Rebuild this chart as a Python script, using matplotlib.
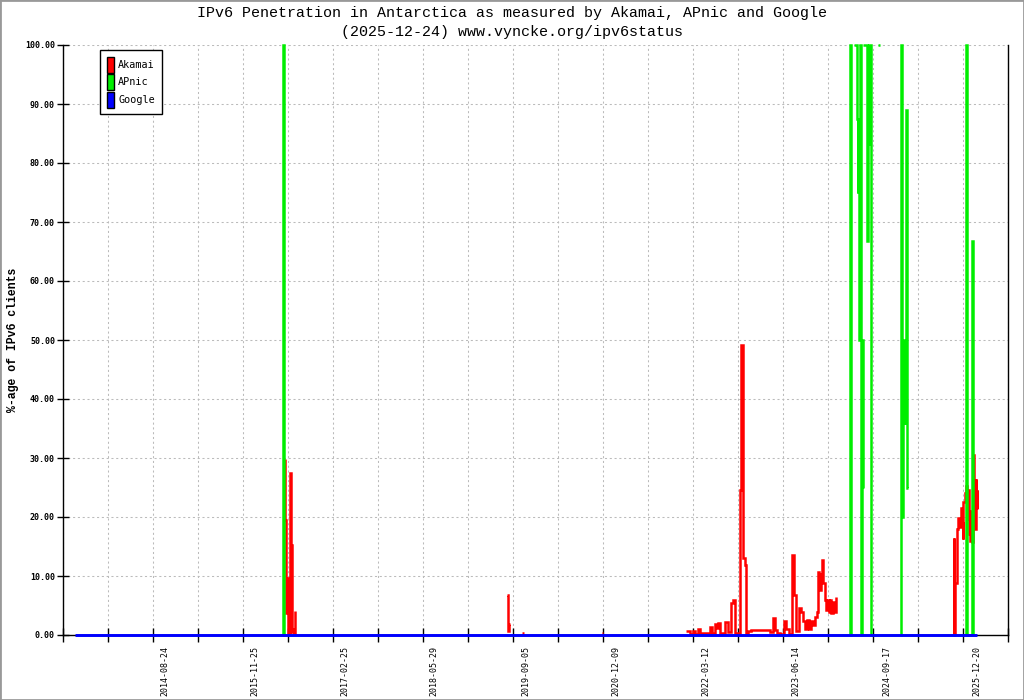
import numpy as np
import pandas as pd
import matplotlib
matplotlib.use('Agg')
import matplotlib.pyplot as plt
import matplotlib.dates as mdates
from matplotlib.patches import Patch, Rectangle

# Akamai (red), segments split by nan where there is no data
akamai_dates = [
    '2016-04-26', '2016-04-28', '2016-05-02', '2016-05-05', '2016-05-08', '2016-05-13',
    '2016-05-18', '2016-05-24', '2016-05-27', '2016-05-30', '2016-06-02', '2016-06-08',
    '2016-06-13', '2016-06-18', '2016-06-20',
    '2019-06-03', '2019-06-07', '2019-06-10', '2019-06-13', '2019-06-17', '2019-06-19',
    '2019-08-18', '2019-08-24', '2019-08-26',
    '2020-09-29', '2020-10-04', '2020-10-06',
    '2021-12-01', '2021-12-11', '2021-12-21', '2022-01-06', '2022-01-16', '2022-01-31',
    '2022-02-10', '2022-03-08', '2022-04-02', '2022-04-12', '2022-04-25', '2022-05-03',
    '2022-05-10', '2022-05-23', '2022-06-18', '2022-07-03', '2022-07-18', '2022-07-28',
    '2022-08-08', '2022-08-23', '2022-08-31', '2022-09-07', '2022-09-17', '2022-09-26',
    '2022-10-03', '2022-10-13', '2022-10-28', '2022-12-13', '2023-01-23', '2023-02-02',
    '2023-02-17', '2023-02-27', '2023-03-10', '2023-03-25', '2023-04-14', '2023-04-24',
    '2023-05-10', '2023-05-25', '2023-06-04', '2023-06-14', '2023-06-30', '2023-07-10',
    '2023-07-20', '2023-07-30', '2023-08-09', '2023-08-20', '2023-08-30', '2023-09-09',
    '2023-09-19', '2023-09-27', '2023-10-04', '2023-10-11', '2023-10-18', '2023-10-25',
    '2023-10-31', '2023-11-07', '2023-11-14', '2023-11-21', '2023-11-28', '2023-12-04',
    '2023-12-11', '2023-12-18', '2023-12-25', '2024-01-01', '2024-01-03',
    '2025-08-22', '2025-08-26', '2025-08-29', '2025-09-02', '2025-09-11', '2025-09-16',
    '2025-09-21', '2025-09-29', '2025-10-04', '2025-10-09', '2025-10-12', '2025-10-19',
    '2025-10-24', '2025-10-29', '2025-11-03', '2025-11-06', '2025-11-11', '2025-11-16',
    '2025-11-19', '2025-11-24', '2025-11-29', '2025-12-04', '2025-12-09', '2025-12-14',
    '2025-12-19', '2025-12-22', '2025-12-24',
]
akamai_vals = [
    29.9, 19.5, 14.1, 3.7, 9.6, 0.3,
    0.5, 27.4, 3.7, 15.2, 0.5, 1.0,
    0.4, 4.1, np.nan,
    6.8, 3.7, 0.7, 1.8, 1.8, np.nan,
    0.4, 0.4, np.nan,
    0.4, 0.4, np.nan,
    0.6, 0.6, 0.2, 0.6, 0.2, 1.0,
    0.3, 0.4, 1.4, 0.4, 1.9, 1.2,
    2.0, 0.3, 2.2, 0.5, 5.4, 6.0,
    0.4, 0.4, 24.6, 49.2, 13.0, 11.9,
    0.3, 0.6, 0.8, 0.8, 0.8, 0.45,
    2.8, 0.8, 0.3, 0.1, 2.3, 1.1,
    0.1, 13.6, 6.8, 0.6, 4.5, 3.9,
    2.3, 1.0, 2.5, 1.1, 2.3, 1.7,
    3.0, 3.9, 10.7, 7.6, 10.4, 12.7,
    8.8, 5.9, 4.2, 5.9, 3.9, 5.9,
    3.7, 5.6, 3.9, 6.5, np.nan,
    0.0, 16.4, 0.2, 8.8, 17.9, 19.8,
    18.3, 21.6, 19.0, 16.3, 22.5, 23.4,
    24.0, 25.2, 19.6, 24.5, 17.1, 16.0,
    21.0, 15.7, 30.5, 26.0, 18.0, 26.4,
    21.7, 24.5, 21.4,
]

# APnic (green)
apnic_dates = [
    '2016-04-18', '2016-04-20', '2016-04-22', '2016-04-24', '2016-04-26',
    '2024-03-12', '2024-03-15', '2024-03-20', '2024-03-25',
    '2024-04-04', '2024-04-15', '2024-04-20', '2024-04-23', '2024-04-26', '2024-04-29',
    '2024-05-01', '2024-05-03', '2024-05-07', '2024-05-12', '2024-05-15', '2024-05-19',
    '2024-05-20',
    '2024-05-22', '2024-05-30', '2024-06-07', '2024-06-12', '2024-06-16', '2024-06-20',
    '2024-06-25', '2024-07-02', '2024-07-10',
    '2024-08-02', '2024-08-12', '2024-08-14',
    '2024-11-27', '2024-12-01', '2024-12-05', '2024-12-07', '2024-12-10', '2024-12-13',
    '2024-12-16', '2024-12-19', '2024-12-22', '2024-12-27', '2024-12-30', '2025-01-02',
    '2025-01-04',
    '2025-10-25', '2025-10-27', '2025-10-29', '2025-10-31',
    '2025-11-25', '2025-11-27', '2025-11-29',
]
apnic_vals = [
    0, 100, 19.5, 0, np.nan,
    0, 100, 0, np.nan,
    100, 100, 87.5, 75, 87.5, 75,
    50, 100, 100, 0, 50, 25,
    np.nan,
    100, 100, 66.7, 100, 83.3, 100,
    100, 0, np.nan,
    100, 100, np.nan,
    0, 100, 50, 20, 50, 46,
    36, 46, 36, 89, 25, 25,
    np.nan,
    0, 50, 100, 0,
    0, 66.7, 0,
]

# Google (blue)
google_dates = ['2013-05-24', '2016-01-01', '2019-01-01', '2022-01-01', '2025-12-22']
google_vals = [0, 0, 0, 0, 0]

label_dates = ['2014-08-24', '2015-11-25', '2017-02-25', '2018-05-29', '2019-09-05',
               '2020-12-09', '2022-03-12', '2023-06-14', '2024-09-17', '2025-12-20']

mono = 'DejaVu Sans Mono'

fig = plt.figure(figsize=(10.24, 7.0), dpi=100)
fig.patch.set_facecolor('white')
ax = fig.add_axes([63.3 / 1024, 65 / 700, 944.4 / 1024, 590 / 700])

line_kw = dict(clip_on=False, solid_capstyle='butt', solid_joinstyle='miter')
ax.plot(pd.to_datetime(akamai_dates), akamai_vals, color='#ff0000', lw=1.8,
        drawstyle='steps-post', zorder=2, **line_kw)
ax.plot(pd.to_datetime(apnic_dates), apnic_vals, color='#00ee00', lw=1.8,
        drawstyle='steps-post', zorder=2.2, **line_kw)
ax.plot(pd.to_datetime(google_dates), google_vals, color='#0000ff', lw=2.1, zorder=3, **line_kw)

x0 = mdates.date2num(pd.Timestamp('2013-03-26'))
x1 = mdates.date2num(pd.Timestamp('2026-05-27'))
ax.set_xlim(x0, x1)
ax.set_ylim(0, 100)

# ticks: evenly spaced marks, labels sit at their own dates
ax.set_xticks(np.linspace(x0, x1, 22))
ax.set_xticklabels([])
ax.set_xticks(mdates.date2num(pd.to_datetime(label_dates)), minor=True)
ax.set_xticklabels(label_dates, minor=True, rotation=90, fontsize=6, fontfamily=mono)
ax.tick_params(axis='x', which='major', direction='inout', length=10, width=1)
ax.tick_params(axis='x', which='minor', length=0, pad=8)

yt = np.arange(0, 101, 10)
ax.set_yticks(yt)
ax.set_yticklabels([f'{v:.2f}' for v in yt], fontsize=6, fontfamily=mono, fontweight='bold')
ax.tick_params(axis='y', direction='inout', length=9, width=1, pad=1.5)

ax.grid(True, which='major', color='#bbbbbb', lw=0.75, linestyle=(0, (2, 2.6)))
ax.set_axisbelow(True)

ax.spines['top'].set_visible(False)
for s in ('left', 'right', 'bottom'):
    ax.spines[s].set_linewidth(1)
    ax.spines[s].set_color('black')

fig.text(0.5, 1 - 13 / 700, 'IPv6 Penetration in Antarctica as measured by Akamai, APnic and Google',
         ha='center', va='center', fontsize=10.8, fontfamily='Liberation Mono')
fig.text(0.5, 1 - 32 / 700, '(2025-12-24) www.vyncke.org/ipv6status',
         ha='center', va='center', fontsize=10.8, fontfamily='Liberation Mono')
fig.text(13 / 1024, 1 - 340 / 700, '%-age of IPv6 clients', rotation=90,
         ha='center', va='center', fontsize=8.3, fontfamily='Liberation Mono', fontweight='bold')

handles = [Patch(facecolor='#ff0000', edgecolor='black', lw=1, label='Akamai'),
           Patch(facecolor='#00ee00', edgecolor='black', lw=1, label='APnic'),
           Patch(facecolor='#0000ff', edgecolor='black', lw=1, label='Google')]
leg = ax.legend(handles=handles, loc='upper left', bbox_to_anchor=(100 / 1024, 1 - 50 / 700),
                bbox_transform=fig.transFigure, borderaxespad=0, fancybox=False,
                framealpha=1, edgecolor='black',
                prop={'family': mono, 'size': 7.3},
                handlelength=0.7, handleheight=2.05, handletextpad=0.45,
                labelspacing=0.15, borderpad=0.65)
leg.get_frame().set_linewidth(1)

fig.patches.append(Rectangle((0, 0), 1, 1, transform=fig.transFigure, fill=False,
                             edgecolor='#999999', lw=2, zorder=10))

fig.savefig('out.png', dpi=100)
